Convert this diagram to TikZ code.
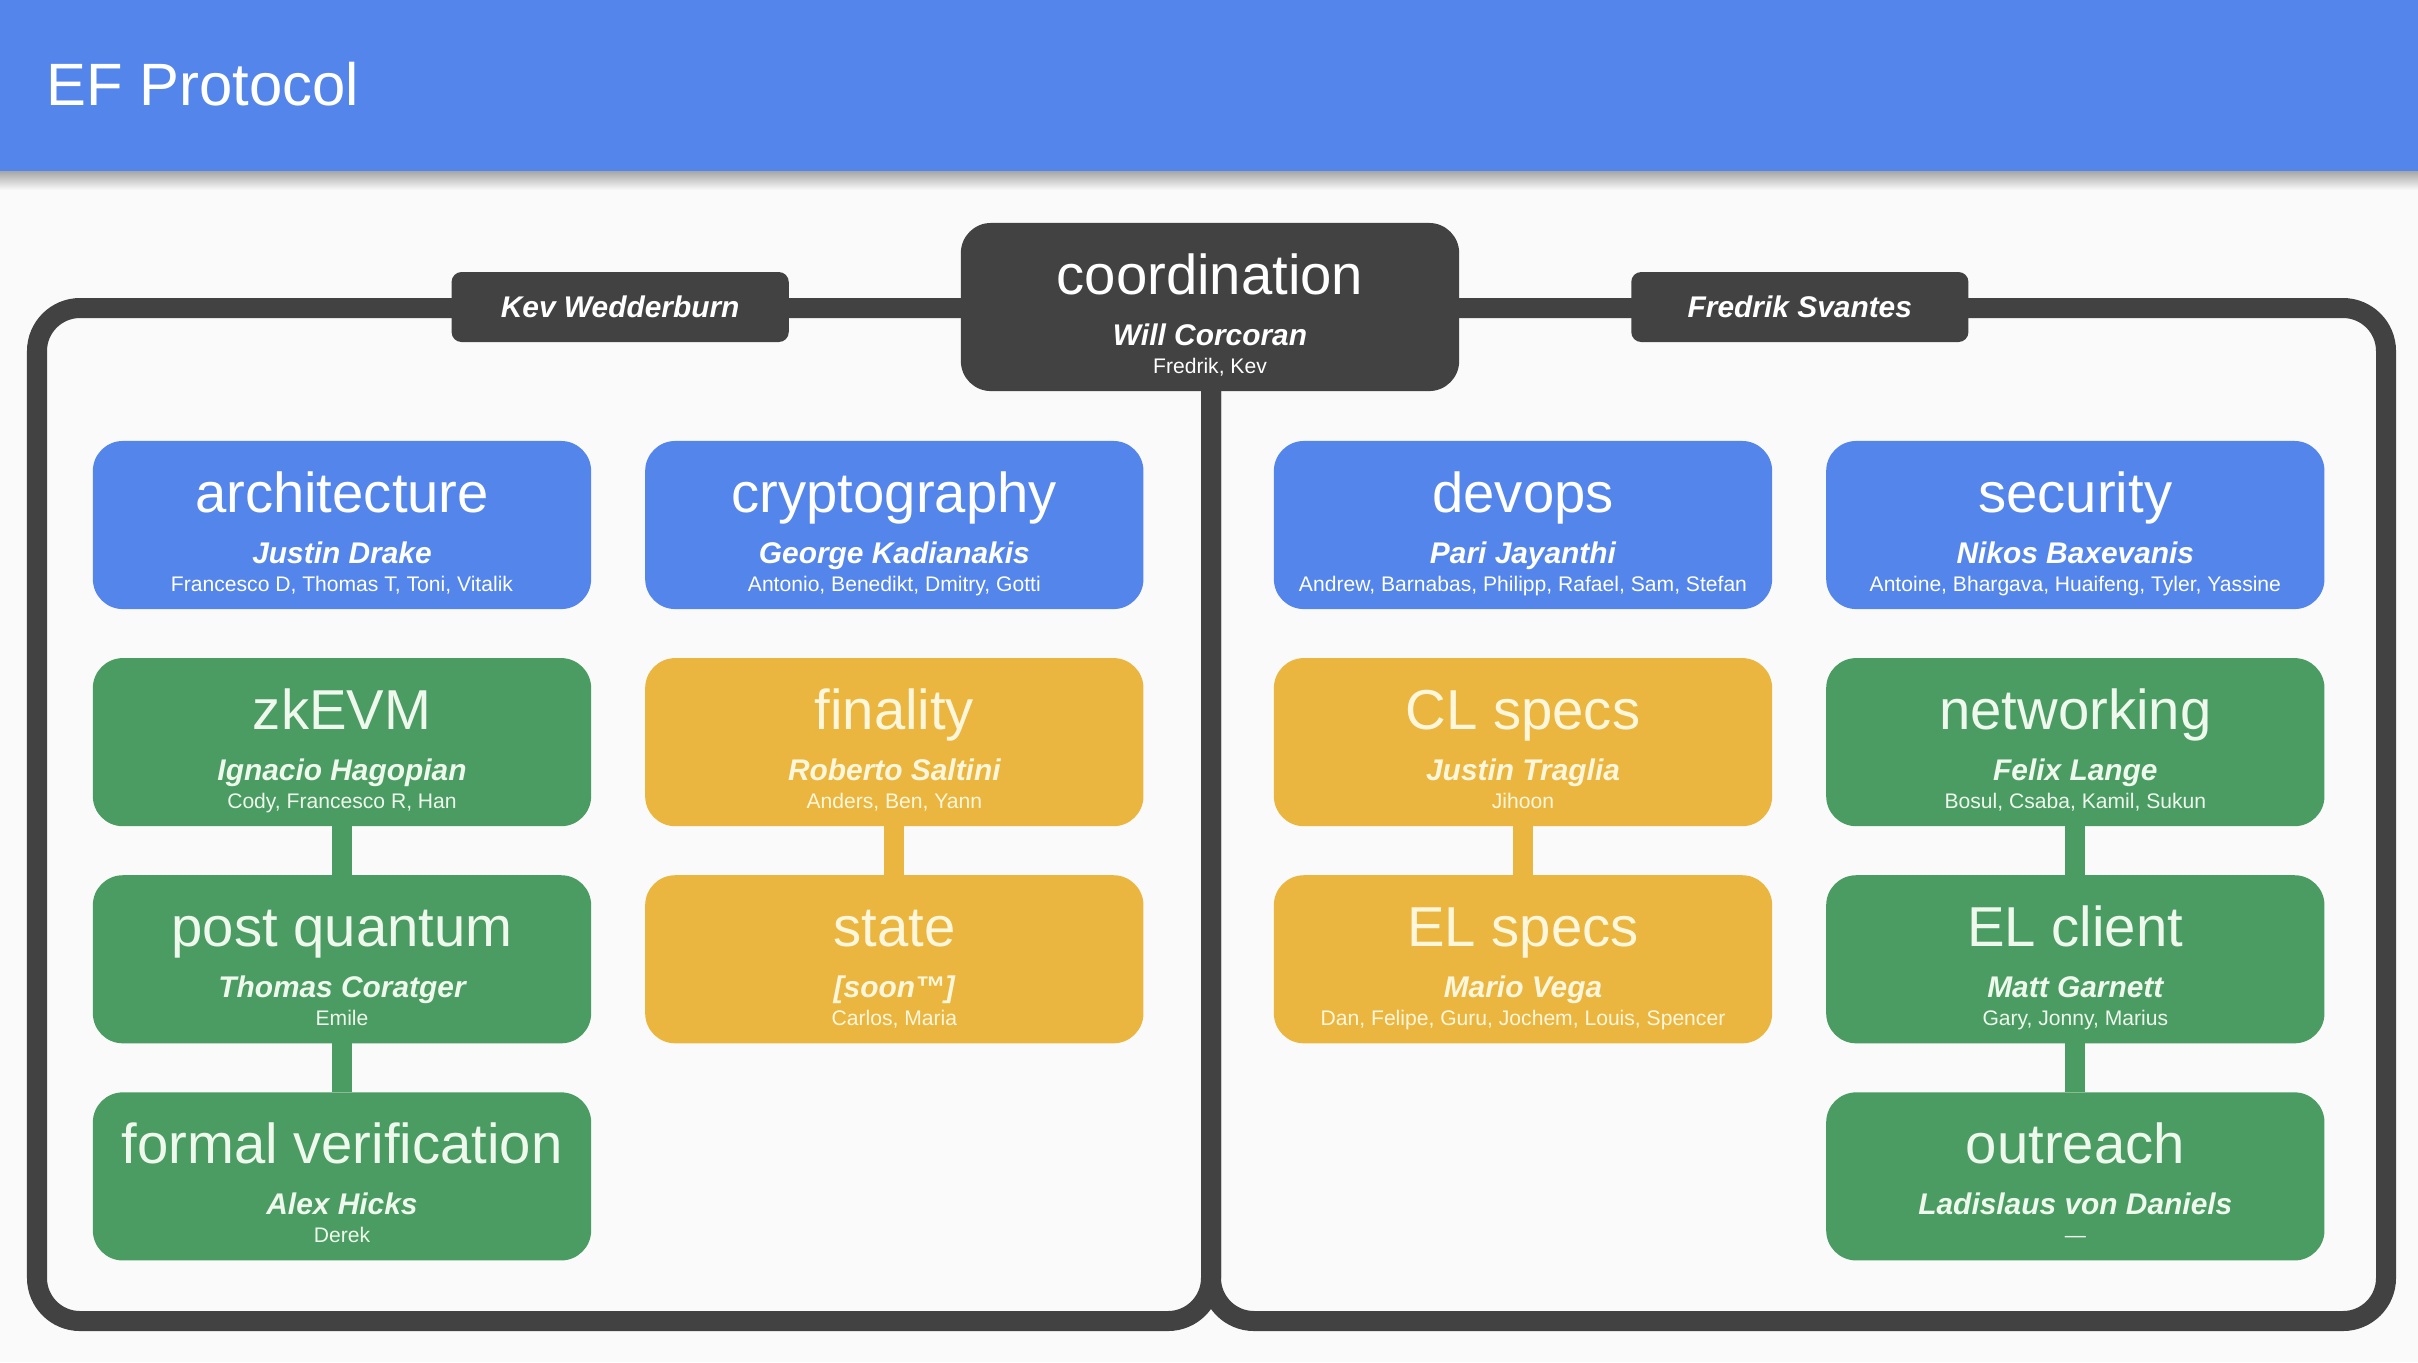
\documentclass[tikz,border=0pt]{standalone}
\usepackage{fontspec}
\setmainfont{Liberation Sans}
\usetikzlibrary{positioning,calc}

\definecolor{efbg}{HTML}{FAFAFA}
\definecolor{efblue}{HTML}{5385EB}
\definecolor{efgreen}{HTML}{4A9C62}
\definecolor{efyellow}{HTML}{EAB63F}
\definecolor{efdark}{HTML}{424242}
\definecolor{greentext}{HTML}{EEF8EC}
\definecolor{yellowtext}{HTML}{FFF7DC}

% title, lead and members of one team
\newcommand{\teamlabel}[3]{\rule[-3.4pt]{0pt}{19.8pt}{\fontsize{16pt}{16pt}\selectfont #1}\\[6.5pt]{\fontsize{8.5pt}{8.5pt}\selectfont\bfseries\itshape #2}\\{#3\rule[-1.3pt]{0pt}{1.3pt}}}

\tikzset{
  team/.style={rectangle, rounded corners=0.3cm, minimum width=4.98cm, minimum height=1.68cm,
    inner sep=2pt, outer sep=0pt, align=center,
    font={\fontsize{6pt}{8pt}\selectfont\lineskiplimit=-\maxdimen}},
  blueteam/.style={fill=efblue, text=white},
  greenteam/.style={fill=efgreen, text=greentext},
  yellowteam/.style={fill=efyellow, text=yellowtext},
  leadbox/.style={rectangle, rounded corners=0.1cm, fill=efdark, text=white, minimum width=3.37cm,
    minimum height=0.7cm, inner sep=0pt, outer sep=0pt, font=\fontsize{8.5pt}{8.5pt}\selectfont\bfseries\itshape},
  frame/.style={draw=efdark, line width=0.2cm, rounded corners=0.43cm},
  link/.style={line width=0.2cm}
}

\begin{document}
\begin{tikzpicture}[x=0.01cm, y=-0.01cm]
    \fill[efbg] (0,0) rectangle (2418,1362);
    \useasboundingbox (0,0) rectangle (2418,1362);

    % header band
    \fill[efblue] (0,0) rectangle (2418,171);
    \shade[top color=black!35, bottom color=efbg] (0,171) rectangle (2418,190);
    \node[anchor=base west, inner sep=0pt, text=white, font=\fontsize{17pt}{17pt}\selectfont] (title) at (46,105) {EF Protocol};

    % the two halves
    \draw[frame] (37,308) rectangle (1211,1321);
    \draw[frame] (1211,308) rectangle (2386,1321);

    \node[team, fill=efdark, text=white] (coord) at (1210,307) {\teamlabel{coordination}{Will Corcoran}{Fredrik, Kev}};
    \node[leadbox, left=1.72cm of coord] (kev) {Kev Wedderburn};
    \node[leadbox, right=1.72cm of coord] (fredrik) {Fredrik Svantes};

    % left half
    \node[team, blueteam] (arch) at (342,525) {\teamlabel{architecture}{Justin Drake}{Francesco D, Thomas T, Toni, Vitalik}};
    \node[team, blueteam, right=0.54cm of arch] (crypto) {\teamlabel{cryptography}{George Kadianakis}{Antonio, Benedikt, Dmitry, Gotti}};
    \node[team, greenteam, below=0.49cm of arch] (zkevm) {\teamlabel{zkEVM}{Ignacio Hagopian}{Cody, Francesco R, Han}};
    \node[team, greenteam, below=0.49cm of zkevm] (pq) {\teamlabel{post quantum}{Thomas Coratger}{Emile}};
    \node[team, greenteam, below=0.49cm of pq] (fv) {\teamlabel{formal verification}{Alex Hicks}{Derek}};
    \node[team, yellowteam, below=0.49cm of crypto] (finality) {\teamlabel{finality}{Roberto Saltini}{Anders, Ben, Yann}};
    \node[team, yellowteam, below=0.49cm of finality] (state) {\teamlabel{state}{[soon™]}{Carlos, Maria}};

    % right half
    \node[team, blueteam] (devops) at (1523,525) {\teamlabel{devops}{Pari Jayanthi}{Andrew, Barnabas, Philipp, Rafael, Sam, Stefan}};
    \node[team, blueteam, right=0.54cm of devops] (security) {\teamlabel{security}{Nikos Baxevanis}{Antoine, Bhargava, Huaifeng, Tyler, Yassine}};
    \node[team, yellowteam, below=0.49cm of devops] (clspecs) {\teamlabel{CL specs}{Justin Traglia}{Jihoon}};
    \node[team, yellowteam, below=0.49cm of clspecs] (elspecs) {\teamlabel{EL specs}{Mario Vega}{Dan, Felipe, Guru, Jochem, Louis, Spencer}};
    \node[team, greenteam, below=0.49cm of security] (networking) {\teamlabel{networking}{Felix Lange}{Bosul, Csaba, Kamil, Sukun}};
    \node[team, greenteam, below=0.49cm of networking] (elclient) {\teamlabel{EL client}{Matt Garnett}{Gary, Jonny, Marius}};
    \node[team, greenteam, below=0.49cm of elclient] (outreach) {\teamlabel{outreach}{Ladislaus von Daniels}{—}};

    \draw[link, efgreen] (zkevm.south) -- (pq.north);
    \draw[link, efgreen] (pq.south) -- (fv.north);
    \draw[link, efyellow] (finality.south) -- (state.north);
    \draw[link, efyellow] (clspecs.south) -- (elspecs.north);
    \draw[link, efgreen] (networking.south) -- (elclient.north);
    \draw[link, efgreen] (elclient.south) -- (outreach.north);
\end{tikzpicture}
\end{document}
